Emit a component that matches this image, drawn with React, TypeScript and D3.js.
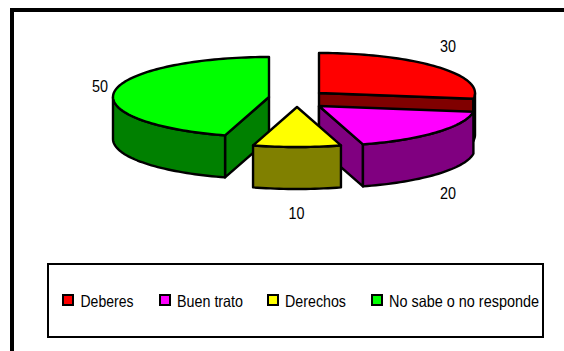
import React from "react";
import * as d3 from "d3";

const categories = ["Deberes", "Buen trato", "Derechos", "No sabe o no responde"];
const values = [30, 20, 10, 50];
const topColors = ["#ff0000", "#ff00ff", "#ffff00", "#00ff00"];
const sideColors = ["#800000", "#800080", "#808000", "#008000"];

// exploded slice centres on the elliptical top plane
const centersX = [319, 319, 297, 269];
const centersY = [93, 106, 107, 97];
const labelX = [448, 448, 296.5, 100];
const labelY = [52, 199, 219, 92];
const legendSwatchX = [62, 159, 267, 371];
const legendTextX = [80.5, 177, 285, 389];
const legendTextW = [53, 66, 61, 150];

const RX = 156;
const RY = 40;
const DEPTH = 42;
const FONT = "'Liberation Sans', Arial, sans-serif";

const slices = d3
  .pie<number>()
  .sort(null)
  .value((d) => d)
  .startAngle(0)
  .endAngle(2 * Math.PI)(values);

const line = d3
  .line<[number, number]>()
  .x((d) => d[0])
  .y((d) => d[1])
  .curve(d3.curveLinear);

function arcPts(cx: number, cy: number, a0: number, a1: number): [number, number][] {
  const n = Math.max(2, Math.ceil(Math.abs(a1 - a0) / 0.03));
  return d3.range(n + 1).map((i) => {
    const t = a0 + ((a1 - a0) * i) / n;
    return [cx + RX * Math.sin(t), cy - RY * Math.cos(t)] as [number, number];
  });
}

function Slice({ i }: { i: number }) {
  const s = slices[i];
  const cx = centersX[i];
  const cy = centersY[i];
  const top = arcPts(cx, cy, s.startAngle, s.endAngle);
  const pts: [number, number][] = [[cx, cy], ...top];
  const topPath = line(pts)! + "Z";
  const down = (p: [number, number]): [number, number] => [p[0], p[1] + DEPTH];
  const a0 = Math.max(s.startAngle, Math.PI / 2);
  const a1 = Math.min(s.endAngle, (3 * Math.PI) / 2);
  const front = arcPts(cx, cy, a0, a1);
  const sidePath = line([...front, ...front.map(down).reverse()])! + "Z";
  const face = (a: number) => {
    const p = arcPts(cx, cy, a, a)[0];
    const c: [number, number] = [cx, cy];
    return line([c, p, down(p), down(c)])! + "Z";
  };
  const common = { stroke: "#000", strokeWidth: 2.4, strokeLinejoin: "round" as const, fill: sideColors[i] };
  const faces: number[] = [];
  if (s.startAngle > Math.PI) faces.push(s.startAngle);
  if (s.endAngle < Math.PI) faces.push(s.endAngle);
  return (
    <g>
      {faces.map((a) => (
        <path key={a} d={face(a)} {...common} />
      ))}
      <path d={sidePath} {...common} />
      <path d={topPath} {...common} fill={topColors[i]} />
    </g>
  );
}

export default function App() {
  return (
    <svg
      width={564}
      height={351}
      style={{ position: "fixed", left: 0, top: 0, background: "#fff" }}
      fontFamily={FONT}
    >
      <rect x={0} y={0} width={564} height={351} fill="#fff" />
      <path d="M12 351V10H564" fill="none" stroke="#000" strokeWidth={4} />
      {[3, 0, 1, 2].map((i) => (
        <Slice key={i} i={i} />
      ))}
      {values.map((v, i) => (
        <text key={i} x={labelX[i]} y={labelY[i]} textAnchor="middle" fontSize={16.5} textLength={16} lengthAdjust="spacingAndGlyphs" fill="#000">
          {v}
        </text>
      ))}
      <rect x={48} y={264} width={495} height={73} fill="#fff" stroke="#000" strokeWidth={2} />
      {categories.map((c, i) => (
        <g key={c}>
          <rect x={legendSwatchX[i] + 1} y={295} width={10} height={10} fill={topColors[i]} stroke="#000" strokeWidth={2} />
          <text x={legendTextX[i]} y={307} fontSize={16.5} textLength={legendTextW[i]} lengthAdjust="spacingAndGlyphs" fill="#000">
            {c}
          </text>
        </g>
      ))}
    </svg>
  );
}
